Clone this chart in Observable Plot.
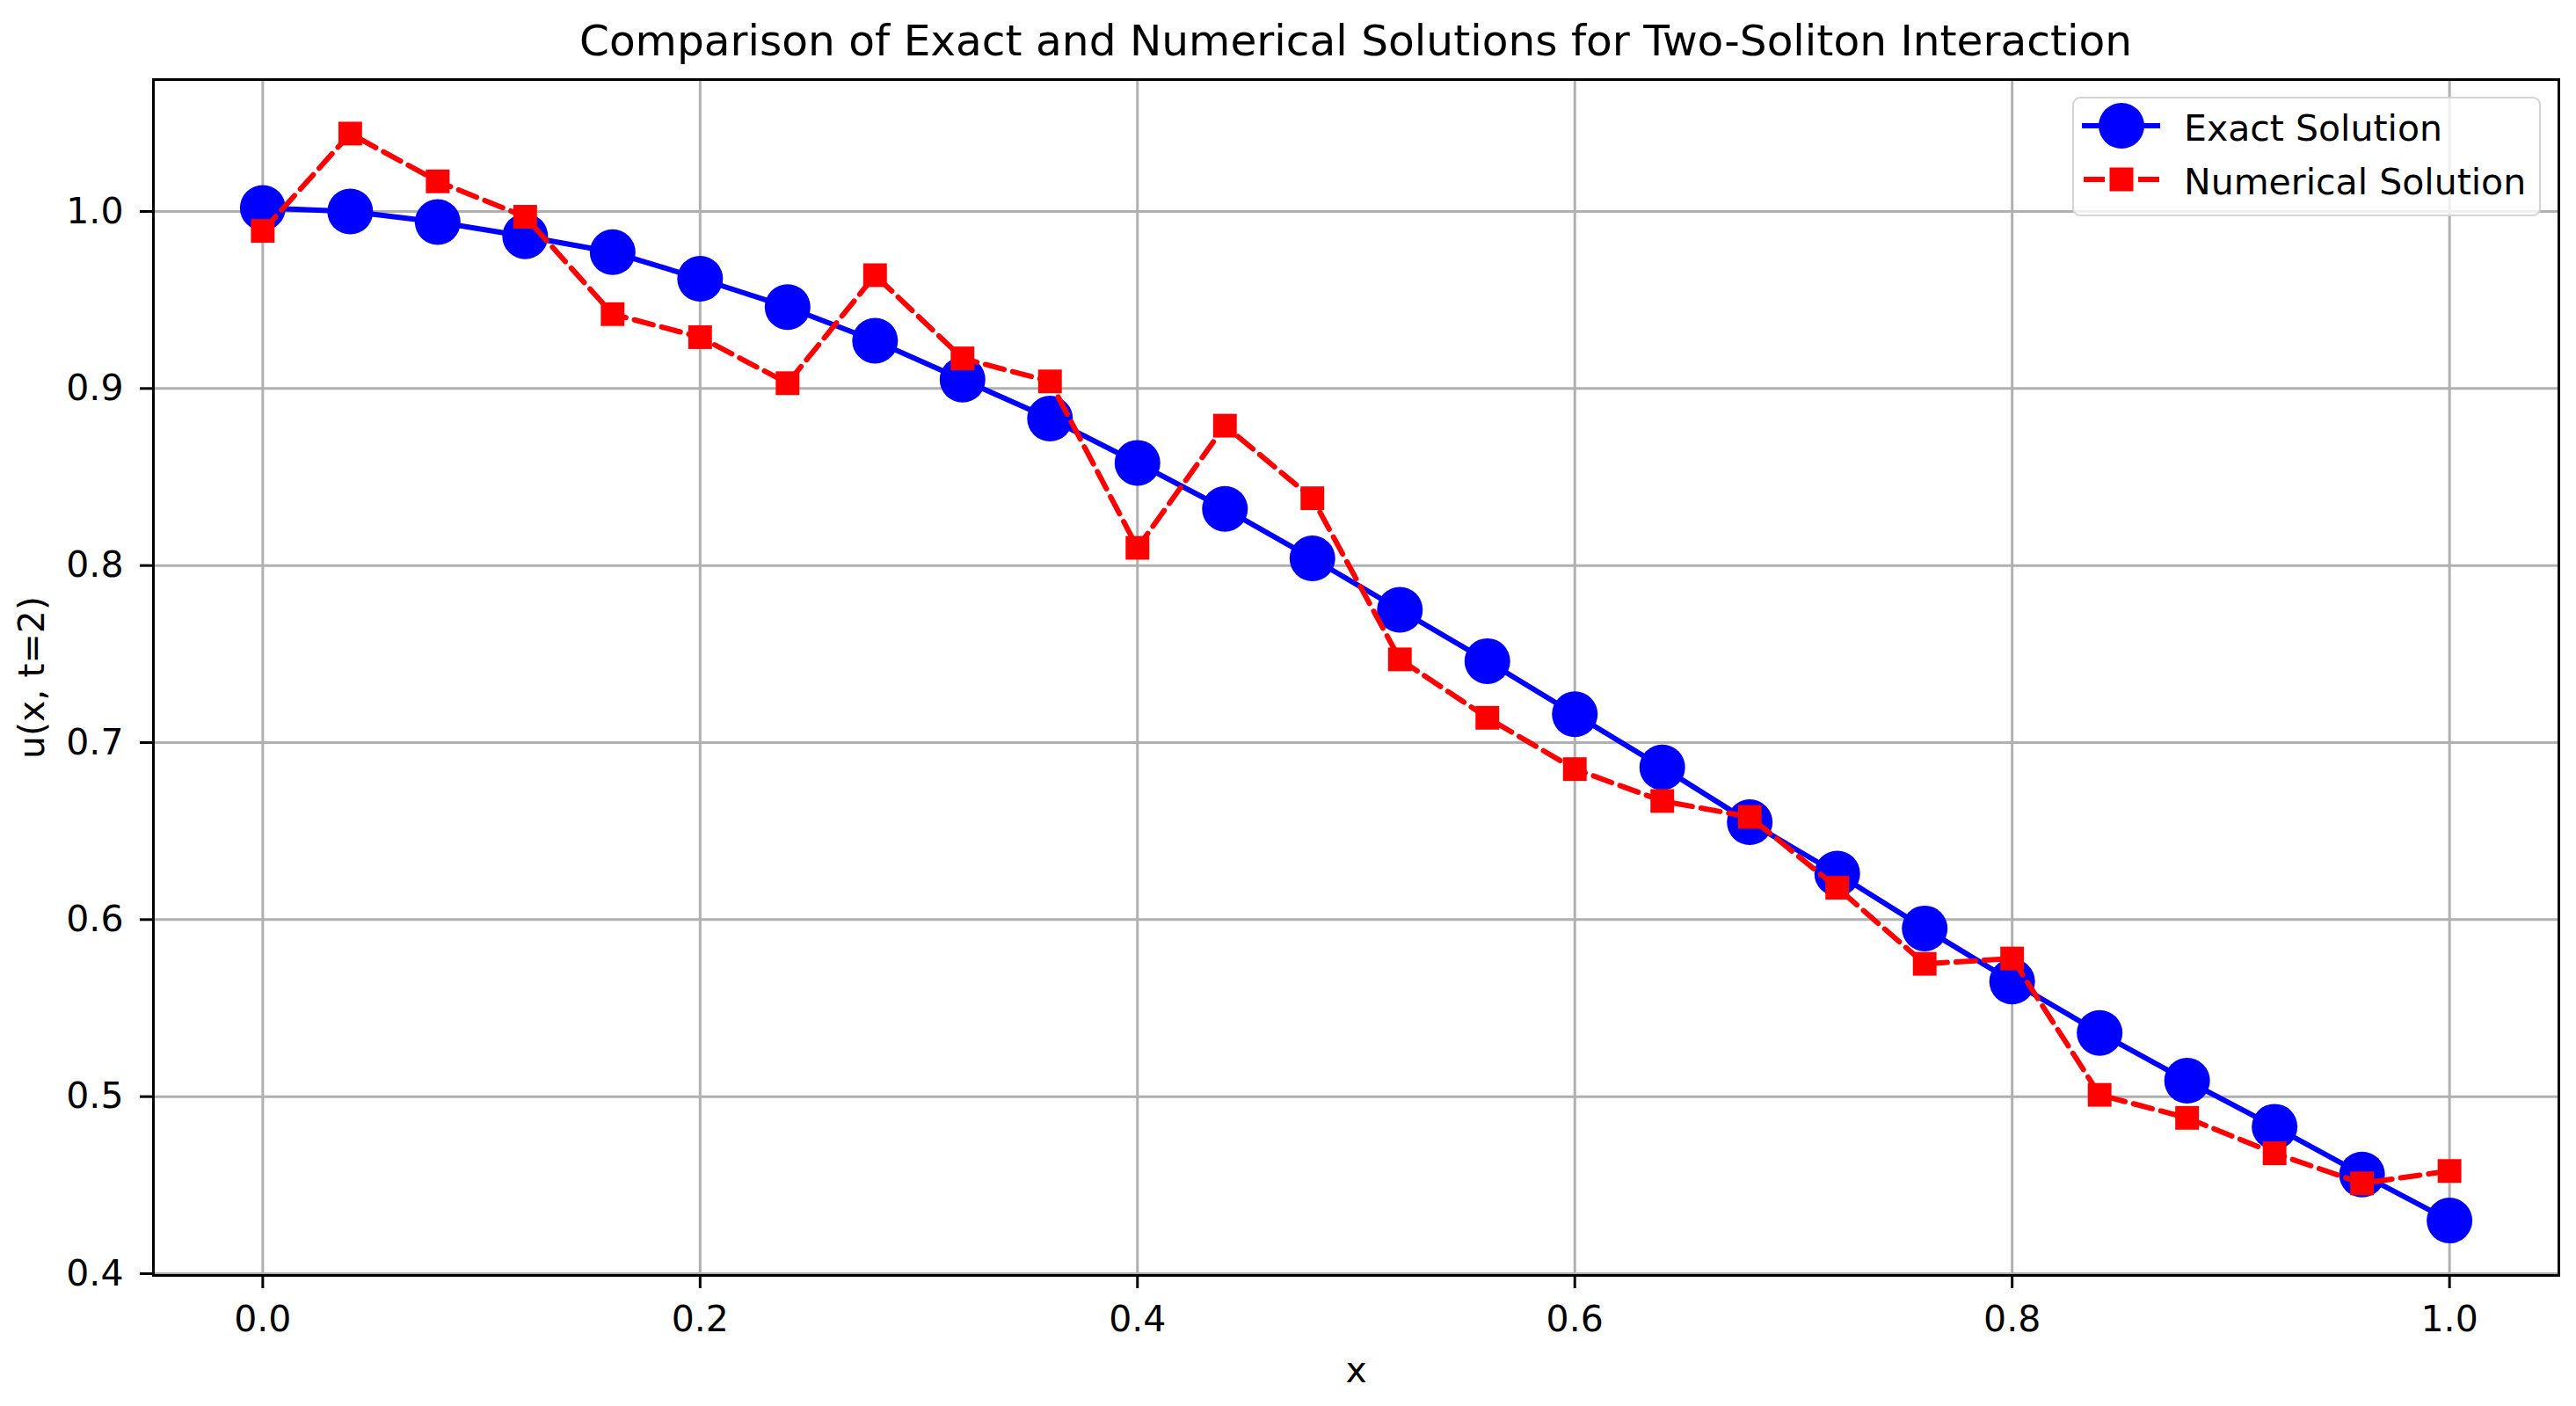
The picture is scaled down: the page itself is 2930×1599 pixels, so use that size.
<!DOCTYPE html>
<html>
<head>
<meta charset="utf-8">
<script src="https://cdn.jsdelivr.net/npm/d3@7"></script>
<script src="https://cdn.jsdelivr.net/npm/@observablehq/plot@0.6"></script>
<style>
  html, body { margin: 0; padding: 0; background: #fff; }
  #wrap { position: relative; width: 2930px; height: 1599px; font-family: "DejaVu Sans", sans-serif; color: #000; overflow: hidden; }
  #title { position: absolute; left: 174px; width: 2736px; top: 16px; height: 60px; line-height: 60px; text-align: center; font-size: 48.6px; white-space: nowrap; }
  #chart { position: absolute; left: 0; top: 80px; }
  #legend { position: absolute; left: 2357px; top: 110px; width: 529px; height: 132px; border: 2px solid #d4d4d4; border-radius: 9px; background: rgba(255,255,255,0.8); }
  #legend svg { position: absolute; left: 0; top: 0; }
  #legend .lab { position: absolute; left: 125px; font-size: 41px; line-height: 1.164em; white-space: nowrap; }
</style>
</head>
<body>
<div id="wrap">
  <div id="title"></div>
  <div id="chart"></div>
  <div id="legend"></div>
</div>
<script>
// ---- data ----
const titleText = "Comparison of Exact and Numerical Solutions for Two-Soliton Interaction";
const xLabel = "x";
const yLabel = "u(x, t=2)";
const seriesNames = ["Exact Solution", "Numerical Solution"];

const xValues = [0.00, 0.04, 0.08, 0.12, 0.16, 0.20, 0.24, 0.28, 0.32, 0.36, 0.40, 0.44, 0.48,
                 0.52, 0.56, 0.60, 0.64, 0.68, 0.72, 0.76, 0.80, 0.84, 0.88, 0.92, 0.96, 1.00];
const exactValues = [1.002, 1.000, 0.994, 0.986, 0.977, 0.962, 0.946, 0.927, 0.905, 0.883, 0.858, 0.832, 0.804,
                     0.775, 0.746, 0.716, 0.686, 0.655, 0.626, 0.595, 0.565, 0.536, 0.509, 0.483, 0.456, 0.430];
const numericalValues = [0.989, 1.044, 1.017, 0.997, 0.942, 0.929, 0.903, 0.964, 0.917, 0.904, 0.810, 0.879, 0.838,
                         0.747, 0.714, 0.685, 0.667, 0.658, 0.618, 0.575, 0.578, 0.501, 0.488, 0.468, 0.451, 0.458];
const xTicks = [0.0, 0.2, 0.4, 0.6, 0.8, 1.0];
const yTicks = [0.4, 0.5, 0.6, 0.7, 0.8, 0.9, 1.0];

// ---- build ----
const exact = xValues.map((x, i) => ({x, u: exactValues[i]}));
const numerical = xValues.map((x, i) => ({x, u: numericalValues[i]}));

const blue = "#0000ff", red = "#ff0000", gridColor = "#b0b0b0";

document.getElementById("title").textContent = titleText;

const chart = Plot.plot({
  width: 2930,
  height: 1519,
  marginTop: 10,
  marginBottom: 149,
  marginLeft: 174,
  marginRight: 20,
  style: {fontFamily: "DejaVu Sans", fontSize: "41px", background: "white", color: "black", overflow: "visible"},
  x: {domain: [-0.05, 1.05]},
  y: {domain: [0.399, 1.0745]},
  marks: [
    Plot.gridX(xTicks, {stroke: gridColor, strokeOpacity: 1, strokeWidth: 3}),
    Plot.gridY(yTicks, {stroke: gridColor, strokeOpacity: 1, strokeWidth: 3}),
    Plot.line(exact, {x: "x", y: "u", stroke: blue, strokeWidth: 6}),
    Plot.dot(exact, {x: "x", y: "u", r: 26, fill: blue, stroke: "none"}),
    Plot.line(numerical, {x: "x", y: "u", stroke: red, strokeWidth: 6, strokeDasharray: "22,10"}),
    Plot.dot(numerical, {x: "x", y: "u", symbol: "square", r: 15.2, fill: red, stroke: "none"}),
    Plot.frame({stroke: "black", strokeWidth: 3}),
    Plot.axisX(xTicks, {tickFormat: d3.format(".1f"), tickSize: 15, tickPadding: 19, strokeWidth: 3, label: null}),
    Plot.axisY(yTicks, {tickFormat: d3.format(".1f"), tickSize: 15, tickPadding: 19, strokeWidth: 3, label: null}),
    Plot.text([xLabel], {frameAnchor: "bottom", dy: 121, lineAnchor: "bottom", textAnchor: "middle", text: d => d}),
    Plot.text([yLabel], {frameAnchor: "left", dx: -124.5, rotate: -90, lineAnchor: "bottom", textAnchor: "middle", text: d => d})
  ]
});
document.getElementById("chart").appendChild(chart);

// ---- legend (overlay in the upper right of the axes) ----
const legend = document.getElementById("legend");
const ns = "http://www.w3.org/2000/svg";
const lsvg = document.createElementNS(ns, "svg");
lsvg.setAttribute("width", 529);
lsvg.setAttribute("height", 132);
lsvg.innerHTML =
  `<line x1="9" x2="98" y1="31" y2="31" stroke="${blue}" stroke-width="6"/>` +
  `<circle cx="54" cy="31" r="26" fill="${blue}"/>` +
  `<line x1="11" x2="35" y1="92" y2="92" stroke="${red}" stroke-width="6"/>` +
  `<line x1="73" x2="97" y1="92" y2="92" stroke="${red}" stroke-width="6"/>` +
  `<rect x="40.5" y="78.5" width="27" height="27" fill="${red}"/>`;
legend.appendChild(lsvg);
seriesNames.forEach((name, i) => {
  const s = document.createElement("div");
  s.className = "lab";
  s.style.top = (11 + i * 61) + "px";
  s.textContent = name;
  legend.appendChild(s);
});
</script>
</body>
</html>
